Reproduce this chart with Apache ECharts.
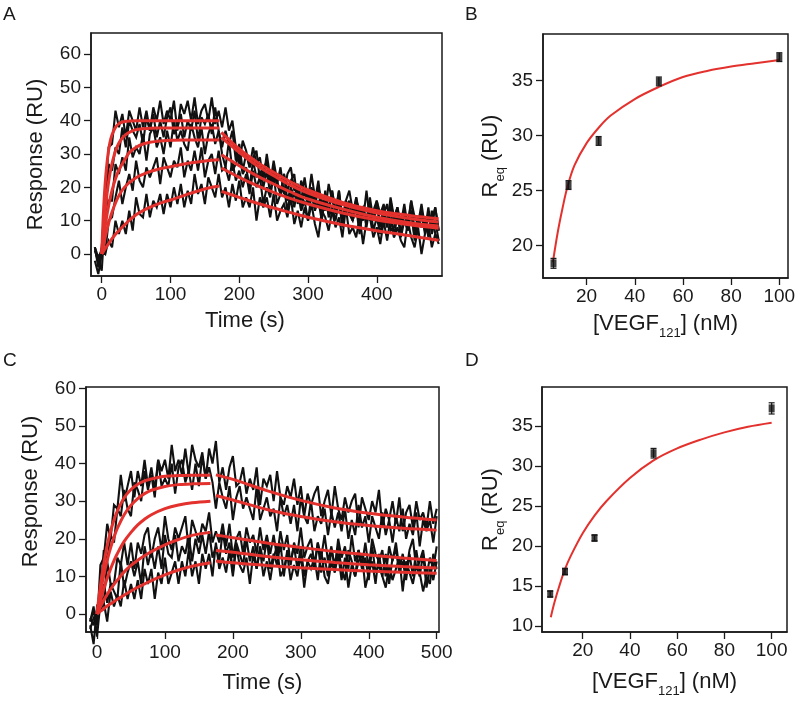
<!DOCTYPE html>
<html><head><meta charset="utf-8">
<script src="https://cdn.jsdelivr.net/npm/echarts@6/dist/echarts.min.js"></script>
<style>html,body{margin:0;padding:0;background:#fff}#c{width:800px;height:704px}</style>
</head><body><div id="c"></div>
<script>
// ---------- Panel A: sensorgrams (time in s, response in RU) ----------
const T_A = [-10,-5,0,5,10,15,20,25,30,35,40,45,50,55,60,65,70,75,80,85,90,95,100,105,110,115,120,125,130,135,140,145,150,155,160,165,170,175,180,185,190,195,200,205,210,215,220,225,230,235,240,245,250,255,260,265,270,275,280,285,290,295,300,305,310,315,320,325,330,335,340,345,350,355,360,365,370,375,380,385,390,395,400,405,410,415,420,425,430,435,440,445,450,455,460,465,470,475,480,485,490];
const A1 = [2,-3,2,17,32,33,43,38,42,35,43,40,37,44,38,43,37,44,40,46,39,43,40,46,37,45,42,46,40,47,39,43,45,40,47,39,43,38,44,37,40,32,27,34,31,26,32,27,29,22,30,23,24,21,26,18,24,26,19,21,16,23,16,24,17,20,16,13,21,16,13,19,10,16,19,13,16,13,10,19,10,13,16,12,15,8,17,11,14,9,15,8,16,11,9,15,8,12,10,14,7];
const A2 = [2,-1,1,9,27,25,32,30,38,32,40,37,35,39,33,41,37,42,35,40,35,41,44,36,38,42,35,40,37,43,34,41,39,42,36,44,37,32,37,33,37,28,33,25,30,26,29,31,22,25,28,21,28,22,18,24,19,22,24,15,22,19,15,20,16,22,13,17,14,19,12,19,10,14,16,10,17,12,14,10,17,10,14,9,14,8,16,10,14,6,12,9,16,7,10,13,6,12,8,14,7];
const A3 = [1,-2,-5,11,16,16,27,24,29,25,35,29,32,30,36,28,36,38,32,35,30,37,32,40,34,37,33,31,39,35,32,38,30,36,39,33,37,30,26,34,25,27,30,24,26,20,28,23,25,20,25,18,26,21,18,24,16,20,17,21,13,19,15,19,14,20,11,16,12,19,13,16,9,16,13,10,17,10,14,8,15,10,16,8,12,9,14,5,12,9,13,7,13,5,9,11,7,14,6,10,4];
const A4 = [2,-4,1,0,10,11,17,22,15,20,24,19,28,22,20,26,23,26,29,21,29,26,23,28,26,32,23,28,25,31,25,32,23,28,30,24,31,25,26,22,28,22,25,20,24,18,25,20,23,15,20,17,24,15,18,20,13,19,14,20,13,16,10,18,13,16,10,19,11,14,10,16,8,16,12,10,14,6,14,10,15,7,11,6,12,15,7,8,12,5,10,7,13,4,11,8,11,5,13,6,4];
const A5 = [-2,-6,0,0,4,2,10,6,10,6,13,7,17,12,11,18,11,16,14,18,12,18,14,20,15,21,14,19,15,24,18,21,15,23,20,17,24,17,20,14,21,16,22,14,17,14,20,10,17,14,17,11,18,10,13,15,11,17,9,13,8,14,10,15,9,5,13,11,7,13,8,11,5,14,6,8,5,11,3,10,11,5,8,3,10,4,11,5,8,4,2,10,5,2,8,0,6,9,2,6,3];
const FIT_A_ASSOC_T = [0,2,4,6,8,10,12,15,20,25,30,35,40,50,60,70,80,90,100,120,140,160,171];
const FIT_A1 = [0,10.4,18.1,23.7,27.9,31.1,33.5,35.8,38.0,39.1,39.6,39.8,39.9,40,40,40,40,40,40,40,40,40,40];
const FIT_A2 = [0,5.9,10.9,15.1,18.6,21.6,24.2,27.2,30.9,33.3,34.8,35.8,36.5,37.3,37.6,37.7,37.8,37.8,37.8,37.8,37.8,37.8,37.8];
const FIT_A3 = [0,3.6,6.7,9.6,12.2,14.5,16.5,19.1,22.6,25.2,27.1,28.8,30.4,32.0,33.0,33.5,33.8,34.0,34.1,34.2,34.2,34.2,34.2];
const FIT_A4 = [0,2.1,4.1,5.9,7.6,9.2,10.6,12.6,15.3,17.5,19.2,20.4,21.4,22.9,23.9,24.7,25.3,25.8,26.2,27.0,27.6,28.1,28.3];
const FIT_A5 = [0,0.65,1.3,1.9,2.5,3.1,3.7,4.6,5.9,7.0,8.1,9.1,10.1,11.8,13.0,14.0,14.9,15.6,16.2,17.6,18.9,20.0,20.4];
const FIT_A_DISS_T = [174,200,225,250,275,300,350,400,450,490];
const DISS_A1 = [36.5,31.5,27.7,24.5,21.6,19.2,15.5,13.0,11.5,10.6];
const DISS_A2 = [35.0,30.5,26.6,23.5,20.6,18.3,14.8,12.3,10.6,9.6];
const DISS_A3 = [29.8,26.5,23.5,21.0,18.6,16.5,13.5,11.0,9.3,8.4];
const DISS_A4 = [25.8,23.0,20.6,18.5,16.6,15.0,12.3,10.2,8.7,7.7];
const DISS_A5 = [18.8,17.0,15.3,13.8,12.4,11.0,8.8,7.0,5.4,4.1];

// ---------- Panel C: sensorgrams ----------
const T_C = [-10,-5,0,5,10,15,20,25,30,35,40,45,50,55,60,65,70,75,80,85,90,95,100,105,110,115,120,125,130,135,140,145,150,155,160,165,170,175,180,185,190,195,200,205,210,215,220,225,230,235,240,245,250,255,260,265,270,275,280,285,290,295,300,305,310,315,320,325,330,335,340,345,350,355,360,365,370,375,380,385,390,395,400,405,410,415,420,425,430,435,440,445,450,455,460,465,470,475,480,485,490,495,500];
const C1 = [-2,1,-3,13,15,24,20,29,28,37,30,34,38,31,38,34,41,34,39,33,41,38,41,36,45,38,41,37,44,37,45,41,39,43,36,44,40,46,35,39,33,39,42,34,35,39,32,36,33,39,29,36,34,37,30,38,31,29,34,31,36,29,34,26,32,29,32,34,26,30,33,26,34,28,25,31,27,30,32,23,31,28,25,30,27,33,23,28,25,30,24,31,22,27,29,23,30,25,27,23,30,24,28];
const C2 = [-1,-3,1,5,17,14,21,19,28,26,33,28,26,35,33,30,38,33,37,31,41,34,36,34,40,32,39,41,35,38,33,40,34,42,36,39,35,28,35,31,28,34,25,31,34,28,31,28,25,34,25,28,31,26,28,22,31,26,29,24,29,22,31,26,24,30,22,26,24,28,21,27,23,27,22,28,20,25,21,29,23,26,19,26,23,20,27,21,25,19,26,22,28,20,24,21,27,18,25,22,25,19,26];
const C3 = [-4,-1,0,6,3,14,8,8,15,13,19,13,19,12,19,16,21,23,15,20,23,17,26,20,17,23,20,23,26,17,25,22,19,24,22,27,19,22,19,24,18,24,15,20,22,16,23,19,21,16,23,17,21,16,21,15,22,17,21,13,19,16,23,15,18,20,13,19,15,21,14,18,12,20,15,18,12,21,14,17,13,19,12,20,16,14,17,10,18,14,19,12,16,11,17,20,12,14,17,10,15,12,18];
const C4 = [-2,2,-6,3,8,3,8,6,4,14,7,11,14,10,14,8,18,13,17,12,18,12,21,16,15,21,14,18,16,21,14,20,16,21,16,22,15,18,14,22,16,19,11,19,16,13,20,14,18,12,18,14,20,12,16,13,19,10,17,14,18,12,18,10,14,16,12,19,11,15,10,17,13,18,12,9,17,14,10,17,12,15,9,18,11,13,10,16,8,15,17,11,14,9,16,10,17,11,6,10,8,16,12];
const C5 = [-3,-8,2,1,3,-2,6,2,5,2,9,4,8,4,9,4,12,8,12,4,11,8,15,8,11,14,8,14,10,17,10,14,8,16,12,16,10,19,12,15,11,17,10,18,13,11,15,8,16,12,17,10,14,9,15,18,10,12,16,9,13,10,16,7,14,12,15,9,17,10,8,14,11,16,9,15,7,13,10,14,16,7,11,14,8,16,10,7,13,9,12,15,6,14,11,8,13,10,16,7,12,9,14];
const FIT_C_ASSOC_T = [0,2,4,6,8,10,15,20,25,30,40,50,60,70,80,100,120,140,167];
const FIT_C1 = [0,3.2,6.1,8.8,11.2,13.4,18.2,22.0,25.0,27.4,30.9,33.1,34.5,35.4,35.9,36.6,36.8,36.9,36.9];
const FIT_C2 = [0,2.4,4.6,6.6,8.5,10.3,14.3,17.6,20.4,22.8,26.4,28.9,30.7,32.0,32.9,33.9,34.4,34.6,34.7];
const FIT_C3 = [0,1.5,2.9,4.2,5.5,6.7,9.5,12.0,14.2,16.1,19.3,21.7,23.7,25.2,26.4,28.0,29.0,29.6,30.0];
const FIT_C4 = [0,0.8,1.6,2.3,3.0,3.7,5.2,6.6,7.9,9.0,11.2,12.9,14.3,15.5,16.6,18.4,19.8,20.9,21.7];
const FIT_C5 = [0,0.3,0.6,0.85,1.1,1.4,2.1,2.7,3.3,3.9,5.0,6.1,7.1,8.0,8.9,10.4,11.7,12.7,13.6];
const FIT_C_DISS_T = [175,200,250,300,350,400,450,500];
const DISS_C1 = [37.0,35.8,32.8,30.2,28.2,26.8,25.8,25.0];
const DISS_C2 = [31.5,30.3,27.8,25.9,24.5,23.5,22.8,22.3];
const DISS_C3 = [21.0,20.3,18.9,17.7,16.6,15.7,14.9,14.2];
const DISS_C4 = [16.9,16.4,15.3,14.4,13.7,13.1,12.6,12.2];
const DISS_C5 = [14.1,13.6,12.9,12.3,11.8,11.4,11.1,10.8];

// ---------- Panels B and D: equilibrium response vs [VEGF121] ----------
const B_CONC = [6.25,12.5,25,50,100];
const B_REQ = [18.4,25.5,29.5,34.9,37.1];
const B_ERR = [0.45,0.4,0.4,0.4,0.4];
const B_FIT_X = [6,8,10,12,15,20,25,30,40,50,60,70,80,90,100];
const B_FIT_Y = [18.5,21.2,23.4,25.3,27.3,29.3,30.7,31.8,33.3,34.4,35.3,35.85,36.25,36.55,36.85];
const D_CONC = [6.25,12.5,25,50,100];
const D_REQ = [14.0,16.8,21.0,31.6,37.2];
const D_ERR = [0.35,0.35,0.35,0.6,0.7];
const D_FIT_X = [6.5,8,10,12.5,15,20,25,30,40,50,60,70,80,90,100];
const D_FIT_Y = [11.1,12.9,14.9,17.1,18.8,21.6,23.8,25.6,28.5,30.7,32.2,33.3,34.2,34.9,35.4];

// ---------- tick labels ----------
const A_XTICKS = [0,100,200,300,400];
const A_YTICKS = [0,10,20,30,40,50,60];
const C_XTICKS = [0,100,200,300,400,500];
const C_YTICKS = [0,10,20,30,40,50,60];
const B_XTICKS = [20,40,60,80,100];
const B_YTICKS = [20,25,30,35];
const D_XTICKS = [20,40,60,80,100];
const D_YTICKS = [10,15,20,25,30,35];

const FONT = '"Liberation Sans", Arial, Helvetica, sans-serif';
const INK = '#1a1a1a';
const RED = '#e3312d';
const BLACK = '#111111';

function zip(xs, ys) { return xs.map((x, i) => [x, ys[i]]); }

function axis(grid, min, max, ticks, margin, extra) {
  return Object.assign({
    type: 'value', gridIndex: grid, min: min, max: max,
    splitLine: { show: false },
    axisLine: { show: true, onZero: false, lineStyle: { color: INK, width: 1.5 } },
    axisTick: { show: true, length: 7, customValues: ticks, lineStyle: { color: INK, width: 1.3 } },
    axisLabel: { customValues: ticks, fontFamily: FONT, fontSize: 19, color: INK, margin: margin },
    nameLocation: 'middle'
  }, extra);
}
const SUB_RICH = { s: { fontFamily: FONT, fontSize: 13, lineHeight: 13, verticalAlign: 'bottom', color: INK } };

function noisy(gi, xs, ys, clip) {
  return { type: 'line', xAxisIndex: gi, yAxisIndex: gi, data: zip(xs, ys), symbol: 'none', showSymbol: false,
    lineStyle: { color: BLACK, width: 2.1, join: 'miter', miterLimit: 3 }, itemStyle: { color: BLACK }, z: 2, clip: clip, silent: true };
}
function fit(gi, xs, ys, width) {
  return { type: 'line', xAxisIndex: gi, yAxisIndex: gi, data: zip(xs, ys), symbol: 'none', showSymbol: false,
    smooth: 0.35,
    lineStyle: { color: RED, width: width, cap: 'butt' }, itemStyle: { color: RED }, z: 3, silent: true };
}
function errBars(gi, xs, ys, es) {
  return { type: 'custom', xAxisIndex: gi, yAxisIndex: gi, z: 4, silent: true,
    data: xs.map((x, i) => [x, ys[i] - es[i], ys[i] + es[i]]),
    encode: { x: 0, y: [1, 2] },
    renderItem: function (params, api) {
      const lo = api.coord([api.value(0), api.value(1)]);
      const hi = api.coord([api.value(0), api.value(2)]);
      const w = 3, st = { stroke: INK, lineWidth: 1.2 };
      return { type: 'group', children: [
        { type: 'line', shape: { x1: lo[0], y1: lo[1], x2: hi[0], y2: hi[1] }, style: st },
        { type: 'line', shape: { x1: lo[0] - w, y1: lo[1], x2: lo[0] + w, y2: lo[1] }, style: st },
        { type: 'line', shape: { x1: hi[0] - w, y1: hi[1], x2: hi[0] + w, y2: hi[1] }, style: st }
      ] };
    } };
}
function points(gi, xs, ys) {
  return { type: 'scatter', xAxisIndex: gi, yAxisIndex: gi, data: zip(xs, ys), symbol: 'rect', symbolSize: [6, 8],
    itemStyle: { color: BLACK }, z: 5, silent: true };
}

const nameStyle = { fontFamily: FONT, fontSize: 22, color: INK };
const gridStyle = { show: true, borderColor: INK, borderWidth: 1.5, backgroundColor: 'transparent' };
const letter = (t, l, tp) => ({ text: t, left: l, top: tp, padding: 0,
  textStyle: { fontFamily: FONT, fontSize: 19, fontWeight: 'normal', color: INK } });

const option = {
  animation: false,
  backgroundColor: '#ffffff',
  title: [letter('A', 3, 5), letter('B', 465, 5), letter('C', 3, 351), letter('D', 465, 351)],
  grid: [
    Object.assign({ left: 91, top: 33, width: 351, height: 243 }, gridStyle),
    Object.assign({ left: 543, top: 34, width: 245, height: 244 }, gridStyle),
    Object.assign({ left: 86, top: 387, width: 353, height: 245 }, gridStyle),
    Object.assign({ left: 542, top: 387, width: 245, height: 245 }, gridStyle)
  ],
  xAxis: [
    axis(0, -15.6, 494.8, A_XTICKS, 9, { name: 'Time (s)', nameGap: 34,
      nameTextStyle: Object.assign({ padding: [0, 43, 0, 0] }, nameStyle) }),
    axis(1, 1.9, 103.6, B_XTICKS, 9, { name: '[VEGF{s|121}] (nM)', nameGap: 30,
      nameTextStyle: Object.assign({ lineHeight: 32, rich: SUB_RICH }, nameStyle) }),
    axis(2, -16.2, 503.4, C_XTICKS, 11, { name: 'Time (s)', nameGap: 40, nameTextStyle: nameStyle }),
    axis(3, 2.77, 106.5, D_XTICKS, 9, { name: '[VEGF{s|121}] (nM)', nameGap: 34,
      nameTextStyle: Object.assign({ lineHeight: 32, rich: SUB_RICH }, nameStyle) })
  ],
  yAxis: [
    axis(0, -6.6, 66.3, A_YTICKS, 10, { name: 'Response (RU)', nameGap: 44, nameTextStyle: nameStyle }),
    axis(1, 17.07, 39.2, B_YTICKS, 10, { name: 'R{s|eq} (RU)', nameGap: 36,
      nameTextStyle: Object.assign({ lineHeight: 32, rich: SUB_RICH }, nameStyle) }),
    axis(2, -4.79, 60.36, C_YTICKS, 10, { name: 'Response (RU)', nameGap: 44,
      nameTextStyle: Object.assign({ padding: [0, 0, 0, 36] }, nameStyle) }),
    axis(3, 9.25, 39.875, D_YTICKS, 9, { name: 'R{s|eq} (RU)', nameGap: 35,
      nameTextStyle: Object.assign({ lineHeight: 32, rich: SUB_RICH }, nameStyle) })
  ],
  series: [
    noisy(0, T_A, A1, true), noisy(0, T_A, A2, true), noisy(0, T_A, A3, true), noisy(0, T_A, A4, true), noisy(0, T_A, A5, true),
    fit(0, FIT_A_ASSOC_T, FIT_A1, 3), fit(0, FIT_A_ASSOC_T, FIT_A2, 3), fit(0, FIT_A_ASSOC_T, FIT_A3, 3),
    fit(0, FIT_A_ASSOC_T, FIT_A4, 3), fit(0, FIT_A_ASSOC_T, FIT_A5, 3),
    fit(0, FIT_A_DISS_T, DISS_A1, 3), fit(0, FIT_A_DISS_T, DISS_A2, 3), fit(0, FIT_A_DISS_T, DISS_A3, 3),
    fit(0, FIT_A_DISS_T, DISS_A4, 3), fit(0, FIT_A_DISS_T, DISS_A5, 3),

    errBars(1, B_CONC, B_REQ, B_ERR), points(1, B_CONC, B_REQ), fit(1, B_FIT_X, B_FIT_Y, 2),

    noisy(2, T_C, C1, false), noisy(2, T_C, C2, false), noisy(2, T_C, C3, false), noisy(2, T_C, C4, false), noisy(2, T_C, C5, false),
    fit(2, FIT_C_ASSOC_T, FIT_C1, 3), fit(2, FIT_C_ASSOC_T, FIT_C2, 3), fit(2, FIT_C_ASSOC_T, FIT_C3, 3),
    fit(2, FIT_C_ASSOC_T, FIT_C4, 3), fit(2, FIT_C_ASSOC_T, FIT_C5, 3),
    fit(2, FIT_C_DISS_T, DISS_C1, 3), fit(2, FIT_C_DISS_T, DISS_C2, 3), fit(2, FIT_C_DISS_T, DISS_C3, 3),
    fit(2, FIT_C_DISS_T, DISS_C4, 3), fit(2, FIT_C_DISS_T, DISS_C5, 3),

    errBars(3, D_CONC, D_REQ, D_ERR), points(3, D_CONC, D_REQ), fit(3, D_FIT_X, D_FIT_Y, 2)
  ]
};
const chart = echarts.init(document.getElementById('c'), null, { renderer: 'canvas' });
chart.setOption(option);
</script>
</body></html>
